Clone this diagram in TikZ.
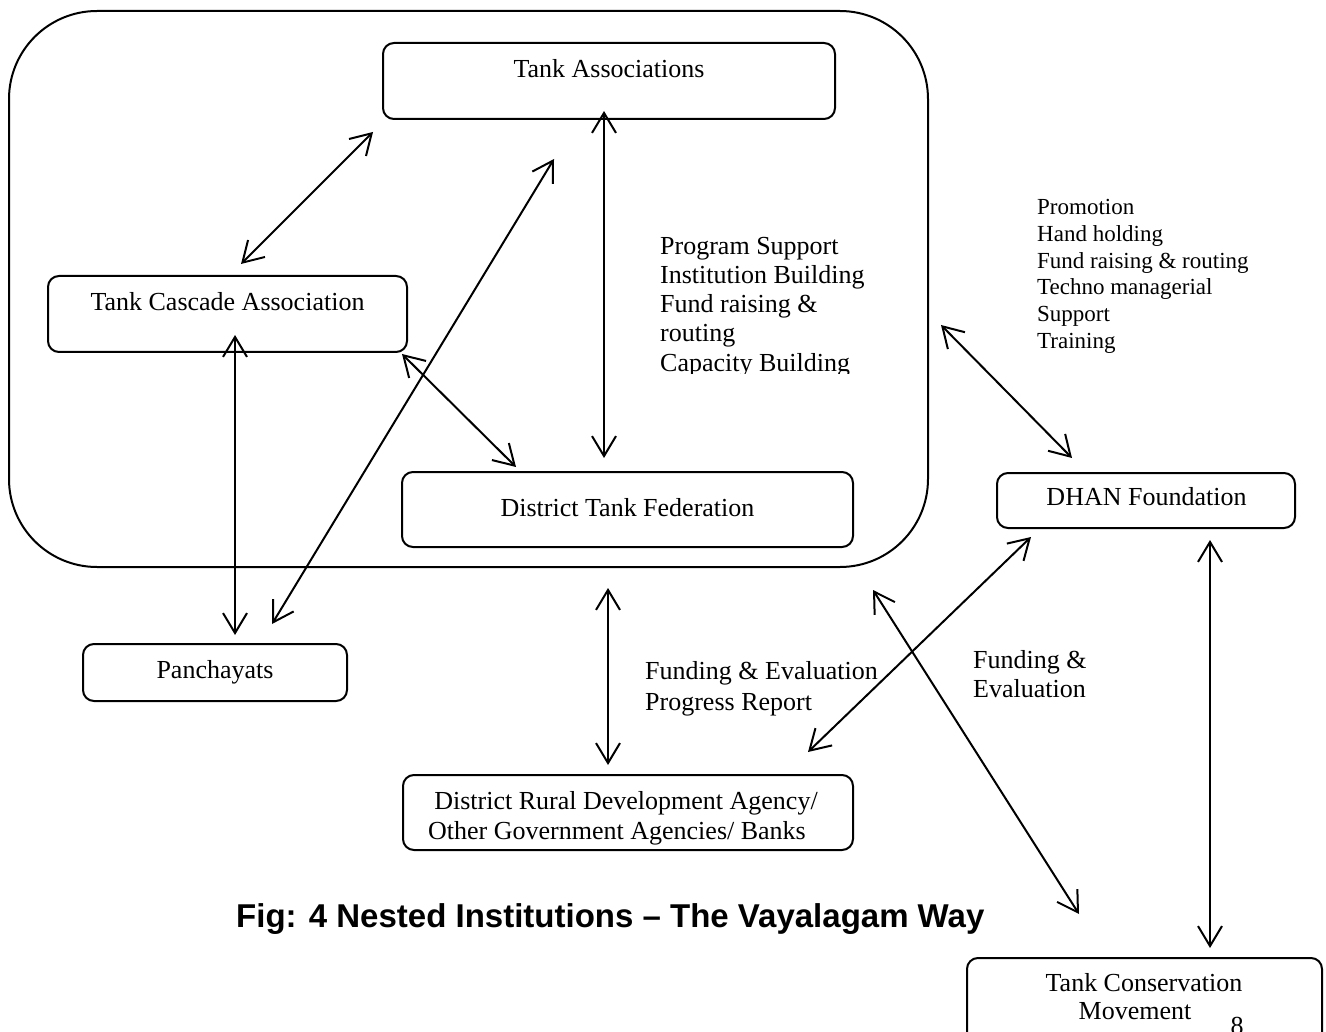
\documentclass[tikz,border=0pt]{standalone}
\usepackage{fontspec}
\setmainfont{Liberation Serif}
\newfontfamily\capfont{Liberation Sans}
\usetikzlibrary{arrows.meta}
\begin{document}
\begin{tikzpicture}[x=1pt,y=-1pt,
  box/.style={draw, line width=2pt, rounded corners=11pt, inner sep=0pt},
  lbl/.style={inner sep=0pt, anchor=base, font=\fontsize{26}{30}\selectfont},
  lbll/.style={lbl, anchor=base west},
  small/.style={inner sep=0pt, anchor=base west, font=\fontsize{23}{27}\selectfont},
  arr/.style={line width=2pt, {Straight Barb[length=20pt,width=24pt]}-{Straight Barb[length=20pt,width=24pt]}}]
\useasboundingbox (0,0) rectangle (1326,1032);
\clip (0,0) rectangle (1326,1032);
% outer frame
\node[draw, line width=2pt, rounded corners=88pt, inner sep=0pt, minimum width=919pt, minimum height=556pt] (outer) at (468.5,289) {};
% boxes
\node[box, minimum width=452pt, minimum height=76pt] (ta) at (609,81) {};
\node[lbl] (tat) at (609,78) {Tank Associations};
\node[box, minimum width=359pt, minimum height=76pt] (tca) at (227.5,314) {};
\node[lbl] (tcat) at (227.5,311) {Tank Cascade Association};
\node[box, minimum width=451pt, minimum height=75pt] (dtf) at (627.5,509.5) {};
\node[lbl] (dtft) at (627.5,516) {District Tank Federation};
\node[box, minimum width=298pt, minimum height=55pt] (dhan) at (1146,500.5) {};
\node[lbl] (dhant) at (1146.5,505) {DHAN Foundation};
\node[box, minimum width=264pt, minimum height=57pt] (pan) at (215,672.5) {};
\node[lbl] (pant) at (215,678) {Panchayats};
\node[box, minimum width=450pt, minimum height=75pt] (drda) at (628,812.5) {};
\node[lbl] (drdat1) at (626,809) {District Rural Development Agency/};
\node[lbl] (drdat2) at (617,839) {Other Government Agencies/ Banks};
\node[box, minimum width=355pt, minimum height=87pt] (tcm) at (1144.5,1001.5) {};
\node[lbl] (tcmt1) at (1144,991) {Tank Conservation};
\node[lbl] (tcmt2) at (1135,1019) {Movement};
\node[lbl] (pg) at (1237,1034) {8};
% labels
\node[lbll] (ps1) at (660,255) {Program Support};
\node[lbll] (ps2) at (660,284) {Institution Building};
\node[lbll] (ps3) at (660,313) {Fund raising \&};
\node[lbll] (ps4) at (660,342) {routing};
\begin{scope}
\clip (640,340) rectangle (900,374);
\node[lbll] (ps5) at (660,372) {Capacity Building};
\end{scope}
\node[small] (pr1) at (1037,215) {Promotion};
\node[small] (pr2) at (1037,242) {Hand holding};
\node[small] (pr3) at (1037,269) {Fund raising \& routing};
\node[small] (pr4) at (1037,295) {Techno managerial};
\node[small] (pr5) at (1037,322) {Support};
\node[small] (pr6) at (1037,349) {Training};
\node[lbll] (fe1) at (645,679) {Funding \& Evaluation};
\node[lbll] (fe2) at (645,710) {Progress Report};
\node[lbll] (fr1) at (973,668) {Funding \&};
\node[lbll] (fr2) at (973,697) {Evaluation};
\node[inner sep=0pt, anchor=base west, font=\capfont\bfseries\fontsize{33}{38}\selectfont] (cap) at (236,927) {Fig: 4 Nested Institutions – The Vayalagam Way};
% connector ends
\coordinate (a1s) at (373,132); \coordinate (a1e) at (241,264);
\coordinate (a2s) at (554,159); \coordinate (a2e) at (272,624);
\coordinate (a3s) at (604,111); \coordinate (a3e) at (604,458);
\coordinate (a4s) at (402,354); \coordinate (a4e) at (516,467);
\coordinate (a5s) at (235,335); \coordinate (a5e) at (235,635);
\coordinate (a6s) at (941,325); \coordinate (a6e) at (1072,458);
\coordinate (a7s) at (608,588); \coordinate (a7e) at (608,765);
\coordinate (a8s) at (1031,537); \coordinate (a8e) at (808,752);
\coordinate (a9s) at (873,590); \coordinate (a9e) at (1079,914);
\coordinate (a10s) at (1210,540); \coordinate (a10e) at (1210,948);
\foreach \i in {1,...,10} \draw[arr] (a\i s) -- (a\i e);
\end{tikzpicture}
\end{document}
